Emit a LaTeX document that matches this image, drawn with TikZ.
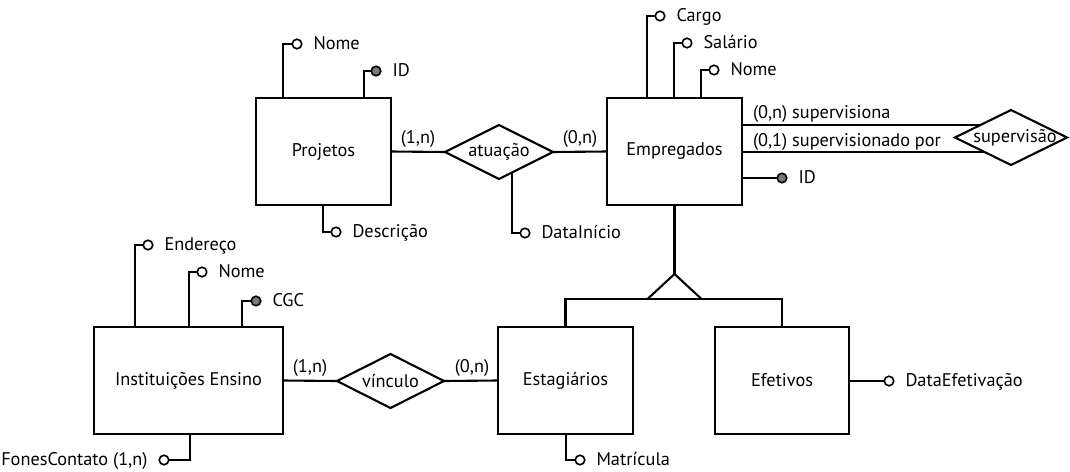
\documentclass[tikz,border=0pt]{standalone}
\usepackage{fontspec}
\setmainfont{PT Sans}
\usetikzlibrary{shapes.geometric,calc}
\definecolor{keyfill}{RGB}{120,120,120}
\newcommand\attR[4]{\node[#1] (#2) at (#3) {}; \node[lbl] (#2-t) at ($(#2)+(16.5,5.5)$) {#4};}
\begin{document}
\begin{tikzpicture}[x=1pt,y=-1pt,line width=2.1pt,
  every node/.style={font=\fontsize{18.3}{21}\selectfont, outer sep=0pt},
  ent/.style={draw, rectangle, minimum width=135, minimum height=107, inner sep=0},
  rel/.style={draw, diamond, inner sep=0},
  attr/.style={draw, circle, fill=white, minimum size=9.5, inner sep=0, line width=1.6pt},
  key/.style={attr, fill=keyfill},
  lbl/.style={inner sep=0, anchor=base west},
  lblL/.style={inner sep=0, anchor=base east},
  card/.style={inner sep=0, anchor=base}]
\useasboundingbox (0,0) rectangle (1070,471);
% entities
\node[ent] (proj) at (323.5,151.5) {Projetos};
\node[ent] (emp) at (674.5,151.5) {Empregados};
\node[ent, minimum width=189] (inst) at (188.5,380.5) {Instituições Ensino};
\node[ent] (est) at (565.5,380.5) {Estagiários};
\node[ent, minimum width=134] (efe) at (782,380.5) {Efetivos};
% relationships
\node[rel, minimum width=108, minimum height=54] (atu) at (499,152) {};
\node (atu-t) at (atu) {atuação};
\node[rel, minimum width=107, minimum height=54] (vin) at (390.5,381) {};
\node (vin-t) at (vin) {vínculo};
\node[rel, minimum width=112, minimum height=55] (sup) at (1011,137.5) {};
\node (sup-t) at (1015,137.5) {supervisão};
% relationship connectors
\draw (proj.east) -- (atu.west);
\draw (atu.east) -- (emp.west);
\draw (inst.east) -- (vin.west);
\draw (vin.east) -- (est.west);
\node[card] (c1) at (418,143) {(1,n)};
\node[card] (c2) at (580,143) {(0,n)};
\node[card] (c3) at (310,372) {(1,n)};
\node[card] (c4) at (472,372) {(0,n)};
% self relationship
\coordinate (sA) at ($(sup.west)!0.464!(sup.north)$);
\coordinate (sB) at ($(sup.west)!0.52!(sup.south)$);
\draw (sA -| emp.east) -- (sA);
\draw (sB -| emp.east) -- (sB);
\node[lbl] (s1) at (753,118) {(0,n) supervisiona};
\node[lbl] (s2) at (753,146) {(0,1) supervisionado por};
% specialization
\coordinate (apex) at (674.5,274);
\coordinate (isa) at (674.5,299);
\draw (emp.south) -- (apex);
\draw[line join=miter] ($(isa)+(-27,0)$) -- (apex) -- ($(isa)+(27,0)$);
\draw (est.north) |- (isa) -| (efe.north);
% Projetos attributes
\attR{attr}{pnome}{297,44}{Nome}
\draw (pnome.west) -| ($(proj.north west)+(27,0)$);
\attR{key}{pid}{376,71}{ID}
\draw (pid.west) -| ($(proj.north west)+(108,0)$);
\attR{attr}{pdesc}{336,232}{Descrição}
\draw (pdesc.west) -| ($(proj.south west)+(67,0)$);
% Empregados attributes
\attR{attr}{ecargo}{660,16}{Cargo}
\draw (ecargo.west) -| ($(emp.north west)+(40,0)$);
\attR{attr}{esal}{687,43}{Salário}
\draw (esal.west) -| ($(emp.north west)+(67,0)$);
\attR{attr}{enome}{714,70}{Nome}
\draw (enome.west) -| ($(emp.north west)+(94,0)$);
\attR{key}{eid}{782,178}{ID}
\draw (eid.west) -- (eid.west -| emp.east);
% atuação attribute
\coordinate (aD) at ($(atu.south)!0.24!(atu.east)$);
\attR{attr}{adata}{525,233}{DataInício}
\draw (adata.west) -| (aD);
% Instituições attributes
\attR{attr}{iend}{148,245}{Endereço}
\draw (iend.west) -| ($(inst.north west)+(41,0)$);
\attR{attr}{inome}{202,272}{Nome}
\draw (inome.west) -| ($(inst.north west)+(95,0)$);
\attR{key}{icgc}{256,301}{CGC}
\draw (icgc.west) -| ($(inst.north west)+(148,0)$);
\node[attr] (ifon) at (164,460) {};
\node[lblL] (ifon-t) at ($(ifon)+(-16.5,5.5)$) {FonesContato (1,n)};
\draw (ifon.east) -| ($(inst.south west)+(96,0)$);
% Estagiários attribute
\attR{attr}{emat}{580,460}{Matrícula}
\draw (emat.west) -| ($(est.south west)+(68,0)$);
% Efetivos attribute
\attR{attr}{fdata}{889,381}{DataEfetivação}
\draw (fdata.west) -- (fdata.west -| efe.east);
\end{tikzpicture}
\end{document}
